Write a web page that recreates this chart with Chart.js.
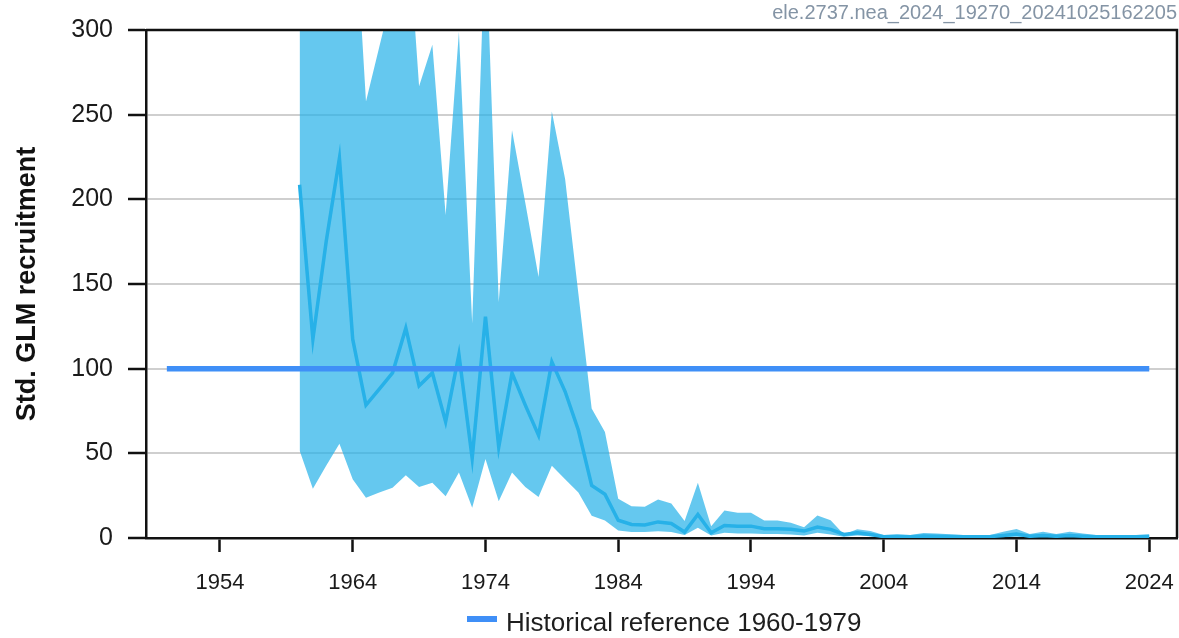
<!DOCTYPE html>
<html><head><meta charset="utf-8">
<script src="https://cdn.jsdelivr.net/npm/chart.js@4.4.1/dist/chart.umd.min.js"></script>
<style>
html,body{margin:0;padding:0;background:#fff;}
#wrap{position:relative;width:1179px;height:638px;overflow:hidden;}
#c{position:absolute;left:0;top:0;}
.lg-sw{position:absolute;left:467px;top:616px;width:30px;height:6px;background:#3f8ff7;}
.lg-tx{position:absolute;left:506px;top:607px;line-height:30px;font-family:"Liberation Sans",Arial,Helvetica,sans-serif;font-size:26px;color:#1e1e1e;white-space:nowrap;}
</style></head><body>
<div id="wrap"><canvas id="c" width="1179" height="638"></canvas>
<div class="lg-sw"></div><div class="lg-tx" id="lgtx"></div></div>
<script>
const years = [1960,1961,1962,1963,1964,1965,1966,1967,1968,1969,
  1970,1971,1972,1973,1974,1975,1976,1977,1978,1979,
  1980,1981,1982,1983,1984,1985,1986,1987,1988,1989,
  1990,1991,1992,1993,1994,1995,1996,1997,1998,1999,
  2000,2001,2002,2003,2004,2005,2006,2007,2008,2009,
  2010,2011,2012,2013,2014,2015,2016,2017,2018,2019,
  2020,2021,2022,2023,2024];
const recruitment = [208.6,117.4,175,224.3,117.4,78.5,87.9,97.5,123.9,89.9,
  97.5,68.6,108.4,47.1,130.7,53.6,97.5,78.5,60.6,104,
  86.5,63.6,31.1,25.8,10.5,8.0,7.7,9.5,8.6,3.5,
  13.9,3.1,7.4,7.0,7.0,5.5,5.5,5.1,4.1,6.5,
  5.1,2.1,3.1,2.1,0.8,0.9,0.8,1.2,1.1,0.9,
  0.8,0.8,0.8,1.5,2.3,1.0,1.5,1.0,1.5,1.1,
  0.8,0.7,0.7,0.8,0.9];
const upperCI = [450,380,420,500,390,257.8,290,322,379,266.8,
  291.3,190.7,299,126.8,360,139.3,240.8,198,154.2,251.8,
  212,144.3,76.5,62.6,23.2,18.8,18.4,22.7,20.4,10,
  32.6,7,16.3,14.9,14.9,10.4,10.4,9,6.4,13.3,
  10.5,2.1,5.1,4.2,1.8,2.2,1.8,2.9,2.6,2.2,
  1.8,1.8,1.8,3.7,5.3,2.4,3.7,2.4,3.7,2.6,
  1.8,1.6,1.6,1.8,2.2];
const lowerCI = [51.6,29.1,42.7,55.6,34.7,23.7,26.8,29.7,37.1,30.1,
  32.7,24.7,38.7,17.8,46.7,21.7,38.7,30.1,24.2,42.7,
  34.7,26.8,13.2,10.4,4.5,3.6,3.5,4.0,3.5,1.7,
  6.1,1.5,3.1,2.7,2.7,2.3,2.3,2.1,1.5,3.1,
  2.1,0.8,1.5,1.1,0.3,0.3,0.3,0.4,0.4,0.3,
  0.3,0.3,0.3,0.5,0.8,0.4,0.5,0.4,0.5,0.4,
  0.3,0.2,0.2,0.3,0.3];
const refYears = [1950, 2024];
const refValues = [100, 100];
const refLabel = 'Historical reference 1960-1979';
const xTicks = [1954,1964,1974,1984,1994,2004,2014,2024];
const yTicks = [0,50,100,150,200,250,300];
const chartTitle = 'ele.2737.nea_2024_19270_20241025162205';
const yTitle = 'Std. GLM recruitment';

const FONT = '"Liberation Sans", Arial, Helvetica, sans-serif';
const toXY = (xs, ys) => xs.map((x, i) => ({x: x, y: ys[i]}));

document.getElementById('lgtx').textContent = refLabel;

const framePlugin = {
  id: 'frame',
  afterDraw(chart) {
    const a = chart.chartArea, c = chart.ctx;
    c.save();
    c.strokeStyle = '#111';
    c.lineWidth = 2.5;
    c.beginPath();
    c.moveTo(a.left, a.top);
    c.lineTo(a.right, a.top);
    c.lineTo(a.right, a.bottom);
    c.stroke();
    c.restore();
  }
};

new Chart(document.getElementById('c'), {
  type: 'line',
  data: {
    datasets: [
      {label: 'upper', data: toXY(years, upperCI), borderWidth: 0, pointRadius: 0,
       borderColor: 'rgba(0,0,0,0)', backgroundColor: 'rgba(36,176,232,0.7)', fill: '+1', order: 2},
      {label: 'lower', data: toXY(years, lowerCI), borderWidth: 0, pointRadius: 0,
       borderColor: 'rgba(0,0,0,0)', fill: false, order: 2},
      {label: yTitle, data: toXY(years, recruitment), borderColor: '#27b1e8', borderWidth: 3.5,
       pointRadius: 0, fill: false, order: 1, borderJoinStyle: 'miter'},
      {label: refLabel, data: toXY(refYears, refValues), borderColor: '#3f8ff7', borderWidth: 5.5,
       pointRadius: 0, fill: false, order: 0, borderCapStyle: 'butt'}
    ]
  },
  options: {
    responsive: false,
    animation: false,
    layout: {padding: {left: 0, right: 2, top: 0, bottom: 36}},
    plugins: {
      legend: {display: false},
      tooltip: {enabled: false},
      title: {display: true, text: chartTitle, align: 'end', color: '#8494a5',
              font: {family: FONT, size: 20, weight: 'normal'}, padding: {top: 0, bottom: 5}}
    },
    scales: {
      x: {
        type: 'linear', min: 1948.43, max: 2026.09,
        afterBuildTicks: s => { s.ticks = xTicks.map(v => ({value: v})); },
        ticks: {callback: v => String(v), font: {family: FONT, size: 22}, color: '#1a1a1a',
                padding: 18, maxRotation: 0, autoSkip: false},
        grid: {drawOnChartArea: false, drawTicks: true, tickLength: 14, tickColor: '#111', tickWidth: 2.5},
        border: {display: true, color: '#111', width: 2.5},
        afterFit: s => { s.height = 64; s.paddingLeft = 0; s.paddingRight = 0; }
      },
      y: {
        min: 0, max: 300,
        afterBuildTicks: s => { s.ticks = yTicks.map(v => ({value: v})); },
        ticks: {font: {family: FONT, size: 25}, color: '#1a1a1a', padding: 15},
        grid: {color: c => (c.tick && c.tick.value > 0 && c.tick.value < 300) ? '#cfcfcf' : 'rgba(0,0,0,0)',
               lineWidth: 2, tickLength: 18, tickColor: '#111', tickWidth: 2.5},
        border: {display: true, color: '#111', width: 2.5},
        title: {display: true, text: yTitle, color: '#111',
                font: {family: FONT, size: 27, weight: 'bold'}, padding: {top: 11, bottom: 0}},
        afterFit: s => { s.width = 146; }
      }
    }
  },
  plugins: [framePlugin]
});
</script>
</body></html>
